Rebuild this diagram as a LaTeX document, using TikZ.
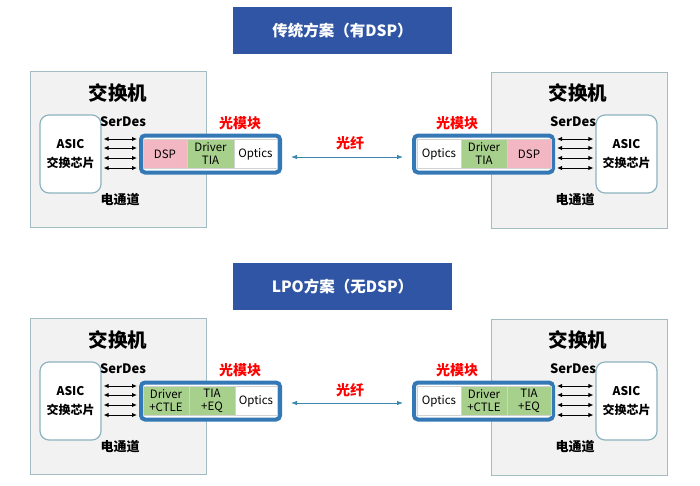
\documentclass[tikz,border=0pt]{standalone}
\usepackage{fontspec}
\setmainfont{Noto Sans CJK SC}
\usetikzlibrary{arrows.meta}
\definecolor{barblue}{HTML}{2F55A4}
\definecolor{modblue}{HTML}{3479B5}
\definecolor{fiberblue}{HTML}{3A86B0}
\definecolor{swgray}{HTML}{F2F2F2}
\definecolor{swedge}{HTML}{A3BCC4}
\definecolor{asicedge}{HTML}{8DB3C0}
\definecolor{dsppink}{HTML}{F3B7C4}
\definecolor{drvgreen}{HTML}{A8D08D}
\tikzset{
  titlebar/.style={fill=barblue, text=white, font=\bfseries\fontsize{15.5}{18}\selectfont, minimum width=219pt, minimum height=47pt, inner sep=0pt},
  swbox/.style={draw=swedge, fill=swgray, line width=1pt, minimum width=176pt, minimum height=156pt, inner sep=0pt},
  swname/.style={font=\bfseries\fontsize{19.5}{22}\selectfont},
  asicbox/.style={draw=asicedge, fill=white, line width=1.2pt, rounded corners=9pt, minimum width=61pt, minimum height=78pt, align=center, font=\bfseries\fontsize{12}{19}\selectfont},
  smalllabel/.style={font=\bfseries\fontsize{13}{15}\selectfont},
  redlabel/.style={text=red, font=\bfseries\fontsize{14}{16}\selectfont},
  modbox/.style={draw=modblue, fill=white, line width=4pt, rounded corners=4pt, minimum width=139pt, minimum height=37pt, inner sep=0pt},
  cell/.style={draw=gray!35, line width=0.4pt, minimum height=29pt, inner sep=0pt, align=center, font=\fontsize{11.5}{13}\selectfont},
  lane/.style={{Latex[length=5pt,width=4.5pt]}-{Latex[length=5pt,width=4.5pt]}, line width=1pt, shorten <=2pt, shorten >=2pt},
  fiber/.style={{Latex[length=6pt,width=4.5pt]}-{Latex[length=6pt,width=4.5pt]}, draw=fiberblue, line width=0.8pt, shorten <=9pt, shorten >=9pt}
}
\begin{document}
\begin{tikzpicture}[x=1pt, y=-1pt]
\useasboundingbox (0,0) rectangle (700,485);
% traditional scheme, with DSP
\node[titlebar] (bar1) at (342.5,30.5) {传统方案（有DSP）};
\node[swbox] (swL1) at (118.5,149.5) {};
\node[swname] (swLname1) at (118,93) {交换机};
\node[asicbox] (asicL1) at (70.5,154) {ASIC\\交换芯片};
\node[smalllabel] (serdesL1) at (123,122) {SerDes};
\node[smalllabel] (chanL1) at (120,200) {电通道};
\node[redlabel] (optL1) at (240,123) {光模块};
\node[modbox] (modL1) at (210.5,154) {};
\node[cell, fill=dsppink, minimum width=44pt] (dspL1) at (165,154) {DSP};
\node[cell, fill=drvgreen, minimum width=47pt] (drvL1) at (210.5,154) {Driver\\TIA};
\node[cell, fill=white, minimum width=43pt] (opticsL1) at (255.5,154) {Optics};

\node[swbox] (swR1) at (579.5,150) {};
\node[swname] (swRname1) at (578,93) {交换机};
\node[asicbox] (asicR1) at (626.5,154) {ASIC\\交换芯片};
\node[smalllabel] (serdesR1) at (573,122) {SerDes};
\node[smalllabel] (chanR1) at (575,200) {电通道};
\node[redlabel] (optR1) at (457,123) {光模块};
\node[modbox] (modR1) at (483.5,154) {};
\node[cell, fill=white, minimum width=44pt] (opticsR1) at (439,154) {Optics};
\node[cell, fill=drvgreen, minimum width=46pt] (drvR1) at (484,154) {Driver\\TIA};
\node[cell, fill=dsppink, minimum width=44pt] (dspR1) at (529,154) {DSP};

\node[redlabel] (fiberlabel1) at (350,143) {光纤};
\draw[fiber] ([yshift=-3pt]modL1.east) -- ([yshift=-3pt]modR1.west);

\draw[lane] ([yshift=15pt]asicL1.east) -- ([yshift=15pt]modL1.west);
\draw[lane] ([yshift=6pt]asicL1.east) -- ([yshift=6pt]modL1.west);
\draw[lane] ([yshift=-4pt]asicL1.east) -- ([yshift=-4pt]modL1.west);
\draw[lane] ([yshift=-14pt]asicL1.east) -- ([yshift=-14pt]modL1.west);
\draw[lane] ([yshift=15pt]modR1.east) -- ([yshift=15pt]asicR1.west);
\draw[lane] ([yshift=6pt]modR1.east) -- ([yshift=6pt]asicR1.west);
\draw[lane] ([yshift=-4pt]modR1.east) -- ([yshift=-4pt]asicR1.west);
\draw[lane] ([yshift=-14pt]modR1.east) -- ([yshift=-14pt]asicR1.west);

% LPO scheme, no DSP
\node[titlebar] (bar2) at (342.5,286.5) {LPO方案（无DSP）};
\node[swbox] (swL2) at (118.5,396.5) {};
\node[swname] (swLname2) at (118,340) {交换机};
\node[asicbox] (asicL2) at (70.5,401) {ASIC\\交换芯片};
\node[smalllabel] (serdesL2) at (123,369) {SerDes};
\node[smalllabel] (chanL2) at (120,447) {电通道};
\node[redlabel] (optL2) at (240,370) {光模块};
\node[modbox] (modL2) at (210.5,401) {};
\node[cell, fill=drvgreen, minimum width=46pt] (drvL2) at (166,401) {Driver\\+CTLE};
\node[cell, fill=drvgreen, minimum width=46pt] (tiaL2) at (212,401) {TIA\\+EQ};
\node[cell, fill=white, minimum width=42pt] (opticsL2) at (256,401) {Optics};

\node[swbox] (swR2) at (579.5,397) {};
\node[swname] (swRname2) at (578,340) {交换机};
\node[asicbox] (asicR2) at (626.5,401) {ASIC\\交换芯片};
\node[smalllabel] (serdesR2) at (573,369) {SerDes};
\node[smalllabel] (chanR2) at (575,447) {电通道};
\node[redlabel] (optR2) at (457,370) {光模块};
\node[modbox] (modR2) at (483.5,401) {};
\node[cell, fill=white, minimum width=44pt] (opticsR2) at (439,401) {Optics};
\node[cell, fill=drvgreen, minimum width=46pt] (drvR2) at (484,401) {Driver\\+CTLE};
\node[cell, fill=drvgreen, minimum width=44pt] (tiaR2) at (529,401) {TIA\\+EQ};

\node[redlabel] (fiberlabel2) at (350,390) {光纤};
\draw[fiber] ([yshift=-2pt]modL2.east) -- ([yshift=-2pt]modR2.west);

\draw[lane] ([yshift=15pt]asicL2.east) -- ([yshift=15pt]modL2.west);
\draw[lane] ([yshift=6pt]asicL2.east) -- ([yshift=6pt]modL2.west);
\draw[lane] ([yshift=-4pt]asicL2.east) -- ([yshift=-4pt]modL2.west);
\draw[lane] ([yshift=-14pt]asicL2.east) -- ([yshift=-14pt]modL2.west);
\draw[lane] ([yshift=15pt]modR2.east) -- ([yshift=15pt]asicR2.west);
\draw[lane] ([yshift=6pt]modR2.east) -- ([yshift=6pt]asicR2.west);
\draw[lane] ([yshift=-4pt]modR2.east) -- ([yshift=-4pt]asicR2.west);
\draw[lane] ([yshift=-14pt]modR2.east) -- ([yshift=-14pt]asicR2.west);
\end{tikzpicture}
\end{document}
